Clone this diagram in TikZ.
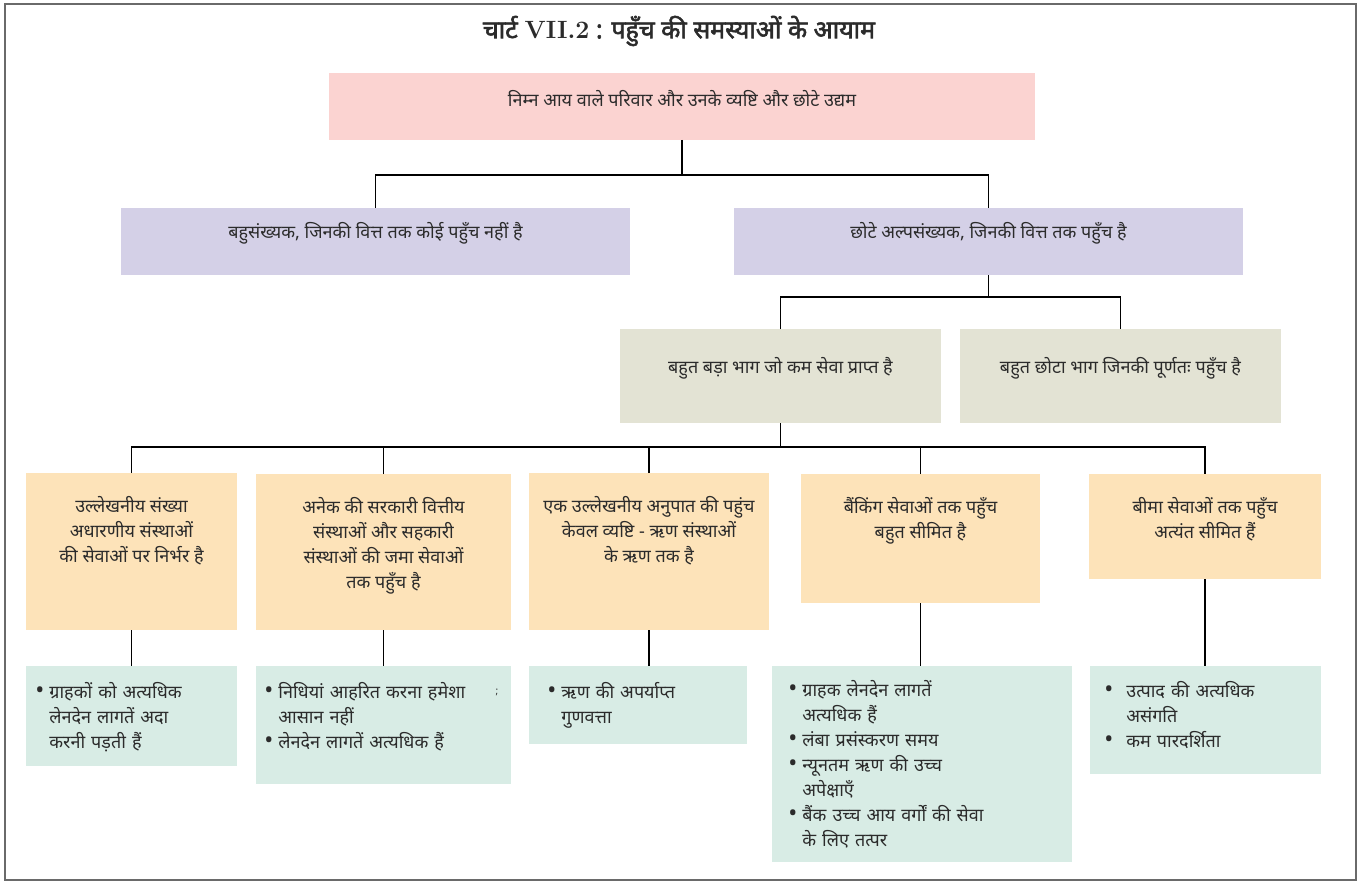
\documentclass[tikz,border=0pt]{standalone}
\usepackage{fontspec}
\newfontfamily\hindi[Script=Devanagari]{Noto Sans}
\newfontfamily\hindititle[Script=Devanagari,FakeBold=2.2]{Noto Sans}
\usetikzlibrary{fit,calc}
\definecolor{pinkbg}{HTML}{FBD3D1}
\definecolor{lavbg}{HTML}{D4D0E7}
\definecolor{graybg}{HTML}{E3E3D4}
\definecolor{orangebg}{HTML}{FDE3B9}
\definecolor{tealbg}{HTML}{D8ECE5}
\definecolor{framegray}{HTML}{6A6A6A}
\definecolor{inkgray}{HTML}{2B2B2B}
\newcommand{\bul}[1][7pt]{\par\noindent\hangindent=#1\hangafter=1\makebox[#1][l]{{\fontsize{12}{12}\selectfont\textbullet}}}

\begin{document}
\begin{tikzpicture}
                [x=0.5pt,y=-0.5pt,
                 box/.style={inner sep=0pt,outer sep=0pt},
                 pinkbox/.style={box,fill=pinkbg},
                 lavbox/.style={box,fill=lavbg},
                 graybox/.style={box,fill=graybg},
                 orangebox/.style={box,fill=orangebg},
                 tealbox/.style={box,fill=tealbg},
                 txt/.style={font=\hindi\fontsize{9}{12.5}\selectfont,text=inkgray},
                 otxt/.style={txt,align=center,anchor=north,inner sep=0pt},
                 ttxt/.style={txt,anchor=north west,inner sep=0pt},
                 link/.style={draw=black,line width=0.6pt}]
                \useasboundingbox (0,0) rectangle (1360,883);
                \draw[framegray,line width=0.8pt] (5,4) rectangle (1356,880);

                \node[font=\hindititle\fontsize{12.5}{15}\selectfont,text=inkgray] (title) at (679,31)
                    {चार्ट \textrm{\bfseries VII.2} : पहुँच की समस्याओं के आयाम};

                \node[pinkbox,txt,fit={(329,73) (1035,140)}] (fam) {निम्न आय वाले परिवार और उनके व्यष्टि और छोटे उद्यम};

                \node[lavbox,txt,fit={(121,208) (630,275)}] (none) {बहुसंख्यक, जिनकी वित्त तक कोई पहुँच नहीं है};
                \node[lavbox,txt,fit={(734,208) (1243,275)}] (some) {छोटे अल्पसंख्यक, जिनकी वित्त तक पहुँच है};

                \node[graybox,txt,fit={(620,329) (941,423)}] (under) {बहुत बड़ा भाग जो कम सेवा प्राप्त है};
                \node[graybox,txt,fit={(960,329) (1281,423)}] (full) {बहुत छोटा भाग जिनकी पूर्णतः पहुँच है};

                \node[orangebox,fit={(26,473) (237,630)}] (o1) {};
                \node[orangebox,fit={(256,474) (511,630)}] (o2) {};
                \node[orangebox,fit={(529,473) (769,630)}] (o3) {};
                \node[orangebox,fit={(801,474) (1040,603)}] (o4) {};
                \node[orangebox,fit={(1089,474) (1321,579)}] (o5) {};

                \node[otxt] (o1t) at ([yshift=-11.5pt]o1.north) {उल्लेखनीय संख्या\\अधारणीय संस्थाओं\\की सेवाओं पर निर्भर है};
                \node[otxt] (o2t) at ([yshift=-11.5pt]o2.north) {अनेक की सरकारी वित्तीय\\संस्थाओं और सहकारी\\संस्थाओं की जमा सेवाओं\\तक पहुँच है};
                \node[otxt] (o3t) at ([yshift=-11.5pt]o3.north) {एक उल्लेखनीय अनुपात की पहुंच\\केवल व्यष्टि - ऋण संस्थाओं\\के ऋण तक है};
                \node[otxt] (o4t) at ([yshift=-11.5pt]o4.north) {बैंकिंग सेवाओं तक पहुँच\\बहुत सीमित है};
                \node[otxt] (o5t) at ([yshift=-11.5pt]o5.north) {बीमा सेवाओं तक पहुँच\\अत्यंत सीमित हैं};

                \node[tealbox,fit={(26,666) (237,766)}] (t1) {};
                \node[tealbox,fit={(256,666) (511,784)}] (t2) {};
                \node[tealbox,fit={(529,666) (747,744)}] (t3) {};
                \node[tealbox,fit={(772,666) (1072,862)}] (t4) {};
                \node[tealbox,fit={(1090,666) (1321,774)}] (t5) {};

                \node[ttxt,text width=100pt] (t1t) at (35,673) {\bul ग्राहकों को अत्यधिक\newline लेनदेन लागतें अदा\newline करनी पड़ती हैं\par};
                \node[ttxt,text width=115pt] (t2t) at (264,673) {\bul निधियां आहरित करना हमेशा\newline आसान नहीं\bul लेनदेन लागतें अत्यधिक हैं\par};
                \node[ttxt,text width=95pt] (t3t) at (547,673) {\bul ऋण की अपर्याप्त\newline गुणवत्ता\par};
                \node[ttxt,text width=135pt] (t4t) at (788,671) {\bul ग्राहक लेनदेन लागतें\newline अत्यधिक हैं\bul लंबा प्रसंस्करण समय\bul न्यूनतम ऋण की उच्च\newline अपेक्षाएँ\bul बैंक उच्च आय वर्गों की सेवा\newline के लिए तत्पर\par};
                \node[ttxt,text width=105pt] (t5t) at (1104,672) {\bul[11pt]उत्पाद की अत्यधिक\newline असंगति\bul[11pt]कम पारदर्शिता\par};
                \node[font=\hindi\fontsize{5}{6}\selectfont,text=inkgray] (mark) at (497,692) {;};

                \coordinate (j1) at ([yshift=-17.5pt]fam.south);
                \coordinate (j2) at ([yshift=-11pt]some.south);
                \coordinate (j3) at ([yshift=-12pt]under.south);

                \draw[link] (fam.south) -- (j1);
                \draw[link] (none.north) |- (j1) -| (some.north);
                \draw[link] (some.south) -- (j2);
                \draw[link] (under.north) |- (j2) -| (full.north);
                \draw[link] (under.south) -- (j3);
                \draw[link] (o1.north) |- (j3) -| (o5.north);
                \foreach \i in {2,3,4}
                    \draw[link] (o\i.north) -- (o\i.north |- j3);
                \foreach \i in {1,...,5}
                    \draw[link] (o\i.south) -- (o\i.south |- t\i.north);
            \end{tikzpicture}
\end{document}
